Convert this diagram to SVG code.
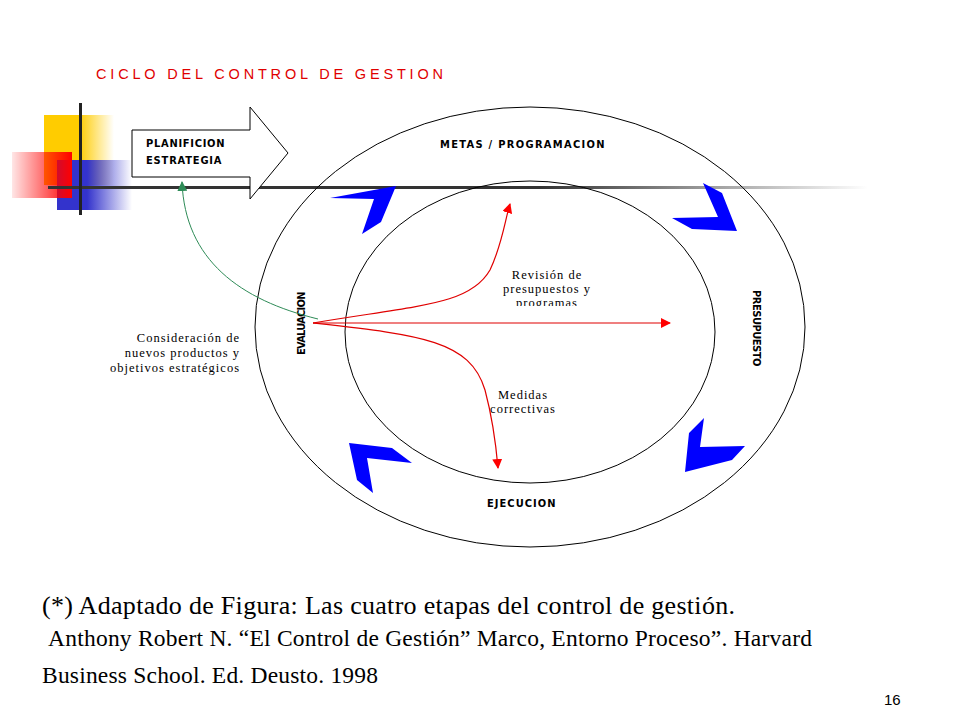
<svg xmlns="http://www.w3.org/2000/svg" width="960" height="720" viewBox="0 0 960 720">
<defs>
<style>
.lbl{font-family:"Liberation Sans Narrow","DejaVu Sans Condensed","Liberation Sans",sans-serif;font-weight:bold;font-size:11px;letter-spacing:1.5px;fill:#000}
.ser{font-family:"Liberation Serif",serif;font-size:12.5px;letter-spacing:1px;fill:#000}
.chev{fill:#0000ff}
.red{fill:none;stroke:#e00000;stroke-width:1.2}
</style>
<marker id="ar" markerWidth="10" markerHeight="10" refX="9" refY="5" orient="auto" markerUnits="userSpaceOnUse"><path d="M0,0 L10,5 L0,10 z" fill="#ff0000"/></marker>
<marker id="ag" markerWidth="10" markerHeight="10" refX="9" refY="5" orient="auto" markerUnits="userSpaceOnUse"><path d="M0,0 L10,5 L0,10 z" fill="#2e8b57"/></marker>
<linearGradient id="gy" x1="0" x2="1"><stop offset="0.5" stop-color="#ffcc00"/><stop offset="1" stop-color="#ffcc00" stop-opacity="0"/></linearGradient>
<linearGradient id="gb" x1="0" x2="1"><stop offset="0.4" stop-color="#3333cc"/><stop offset="1" stop-color="#3333cc" stop-opacity="0"/></linearGradient>
<linearGradient id="gr" x1="1" x2="0"><stop offset="0" stop-color="#ff0000"/><stop offset="1" stop-color="#ff0000" stop-opacity="0.1"/></linearGradient>
<linearGradient id="gl" x1="0" x2="1"><stop offset="0.6" stop-color="#333"/><stop offset="1" stop-color="#333" stop-opacity="0"/></linearGradient>
<clipPath id="cp"><rect x="480" y="260" width="140" height="46"/></clipPath>
</defs>
<rect width="960" height="720" fill="#fff"/>
<text x="96" y="79" font-family="Liberation Sans,sans-serif" font-size="14.5" textLength="347" lengthAdjust="spacing" fill="#e00000">CICLO DEL CONTROL DE GESTION</text>
<g id="deco">
<rect x="44" y="115" width="70" height="70" fill="url(#gy)"/>
<rect x="57" y="160" width="75" height="50" fill="url(#gb)"/>
<rect x="12" y="152" width="60" height="46" fill="url(#gr)"/>
<rect x="48" y="186" width="820" height="3" fill="url(#gl)"/>
<rect x="79" y="103" width="3" height="112" fill="#222"/>
</g>
<g id="ellipses" fill="none" stroke="#000" stroke-width="1">
<ellipse cx="530" cy="327" rx="275" ry="220"/>
<ellipse cx="530" cy="332" rx="185" ry="151"/>
</g>
<g id="planificacion">
<path d="M132,130 H250 V107 L288,153 L250,199 V177 H132 Z" fill="#fff" stroke="#000" stroke-width="1"/>
<text class="lbl" x="146" y="147" textLength="80" lengthAdjust="spacing">PLANIFICION</text>
<text class="lbl" x="146" y="164" textLength="77" lengthAdjust="spacing">ESTRATEGIA</text>
</g>
<g id="chevrons">
<polygon class="chev" points="330,198 396,186 381,222 362,234 374,199"/>
<polygon class="chev" points="703,183 722,193 737,231 692,229 672,218 718,217"/>
<polygon class="chev" points="704,418 689,433 685,472 732,460 745,446 700,447"/>
<polygon class="chev" points="349,443 392,448 412,463 367,458 373,493 357,480"/>
</g>
<g id="labels">
<text class="lbl" x="440" y="148" textLength="166" lengthAdjust="spacing">METAS / PROGRAMACION</text>
<text class="lbl" x="487" y="507" textLength="70" lengthAdjust="spacing">EJECUCION</text>
<text class="lbl" transform="translate(305,355) rotate(-90)" textLength="65" lengthAdjust="spacing">EVALUACION</text>
<text class="lbl" transform="translate(753,290) rotate(90)" textLength="78" lengthAdjust="spacing">PRESUPUESTO</text>
<text class="ser" x="240" y="342" text-anchor="end">Consideración de</text>
<text class="ser" x="240" y="357" text-anchor="end">nuevos productos y</text>
<text class="ser" x="240" y="372" text-anchor="end">objetivos estratégicos</text>
<text class="ser" x="547" y="279" text-anchor="middle">Revisión de</text>
<text class="ser" x="547" y="293" text-anchor="middle">presupuestos y</text>
<text class="ser" x="547" y="307" text-anchor="middle" clip-path="url(#cp)">programas</text>
<text class="ser" x="523" y="399" text-anchor="middle">Medidas</text>
<text class="ser" x="523" y="413" text-anchor="middle">correctivas</text>
</g>
<g id="connectors">
<path class="red" d="M313,323 H670" marker-end="url(#ar)"/>
<path class="red" d="M313,323 C420,305 470,305 490,270 C502,245 505,220 510,204" marker-end="url(#ar)"/>
<path class="red" d="M313,323 C420,335 470,340 485,390 C493,420 496,445 498,468" marker-end="url(#ar)"/>
<path d="M318,319 C240,300 185,260 182,182" fill="none" stroke="#2e8b57" stroke-width="1" marker-end="url(#ag)"/>
</g>
<g id="footer" font-family="Liberation Serif,serif" fill="#000">
<text x="42" y="614" font-size="26" textLength="693" lengthAdjust="spacing">(*) Adaptado de Figura: Las cuatro etapas del control de gestión.</text>
<text x="48" y="646" font-size="23.5" textLength="764" lengthAdjust="spacing">Anthony Robert N. “El Control de Gestión” Marco, Entorno Proceso”. Harvard</text>
<text x="42" y="683" font-size="23.5" textLength="336" lengthAdjust="spacing">Business School. Ed. Deusto. 1998</text>
</g>
<text x="884" y="705" font-family="Liberation Sans,sans-serif" font-size="15" fill="#000">16</text>
</svg>
